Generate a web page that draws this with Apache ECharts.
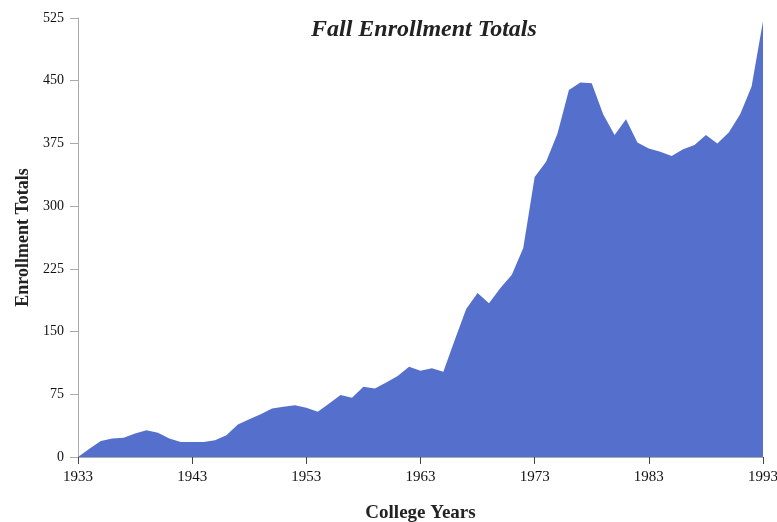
<!DOCTYPE html>
<html>
<head>
<meta charset="utf-8">
<script src="https://cdn.jsdelivr.net/npm/echarts@6/dist/echarts.min.js"></script>
<style>
	html, body { margin: 0; padding: 0; background: #fff; }
	#chart { width: 777px; height: 522px; }
</style>
</head>
<body>
<div id="chart"></div>
<script>
// college years 1933 .. 1993
var years = [];
for (var y = 1933; y <= 1993; y++) { years.push(String(y)); }

// fall enrollment
var enrollment = [
	0, 10, 19, 22, 23, 28, 32, 29, 22, 18,      // 1933-1942
	18, 18, 20, 26, 39, 45, 51, 58, 60, 62,     // 1943-1952
	59, 54, 64, 74, 71, 84, 82, 89, 97, 108,    // 1953-1962
	103, 106, 102, 140, 177, 196, 184, 202, 218, 250, // 1963-1972
	335, 353, 387, 439, 448, 447, 410, 385, 404, 376, // 1973-1982
	369, 365, 360, 368, 373, 385, 375, 388, 410, 443, // 1983-1992
	521                                          // 1993
];

var yTicks = [0, 75, 150, 225, 300, 375, 450, 525];

var chart = echarts.init(document.getElementById('chart'));
var serif = '"Liberation Serif", "DejaVu Serif", serif';

var option = {
	animation: false,
	title: {
		text: 'Fall Enrollment Totals',
		left: 306,
		top: 13,
		textStyle: {
			fontFamily: serif,
			fontStyle: 'italic',
			fontWeight: 'bold',
			fontSize: 24,
			color: '#222'
		}
	},
	grid: {
		left: 78,
		right: 14,
		top: 18,
		bottom: 65,
		outerBoundsMode: 'none',
		containLabel: false
	},
	xAxis: {
		type: 'category',
		data: years,
		boundaryGap: false,
		name: 'College Years',
		nameLocation: 'middle',
		nameGap: 47,
		nameTextStyle: {
			fontFamily: serif,
			fontWeight: 'bold',
			fontSize: 19,
			color: '#222'
		},
		axisLine: {
			lineStyle: { color: '#aaa', width: 1 }
		},
		axisTick: {
			interval: 9,
			length: 7,
			lineStyle: { color: '#444' }
		},
		axisLabel: {
			interval: 9,
			margin: 13,
			fontFamily: serif,
			fontSize: 15,
			color: '#111'
		},
		splitLine: { show: false }
	},
	yAxis: {
		type: 'value',
		min: yTicks[0],
		max: yTicks[yTicks.length - 1],
		interval: 75,
		name: 'Enrollment Totals',
		nameLocation: 'middle',
		nameGap: 41,
		nameRotate: 90,
		nameTextStyle: {
			fontFamily: serif,
			fontWeight: 'bold',
			fontSize: 18,
			color: '#222'
		},
		axisLine: {
			show: true,
			lineStyle: { color: '#aaa', width: 1 }
		},
		axisTick: {
			show: true,
			length: 8,
			lineStyle: { color: '#aaa' }
		},
		axisLabel: {
			margin: 14,
			fontFamily: serif,
			fontSize: 14,
			color: '#111'
		},
		splitLine: { show: false }
	},
	series: [{
		name: 'Enrollment',
		type: 'line',
		data: enrollment,
		showSymbol: false,
		lineStyle: { width: 0 },
		areaStyle: {
			color: '#5470cc',
			opacity: 1
		},
		itemStyle: { color: '#5470cc' }
	}]
};

chart.setOption(option);
</script>
</body>
</html>
